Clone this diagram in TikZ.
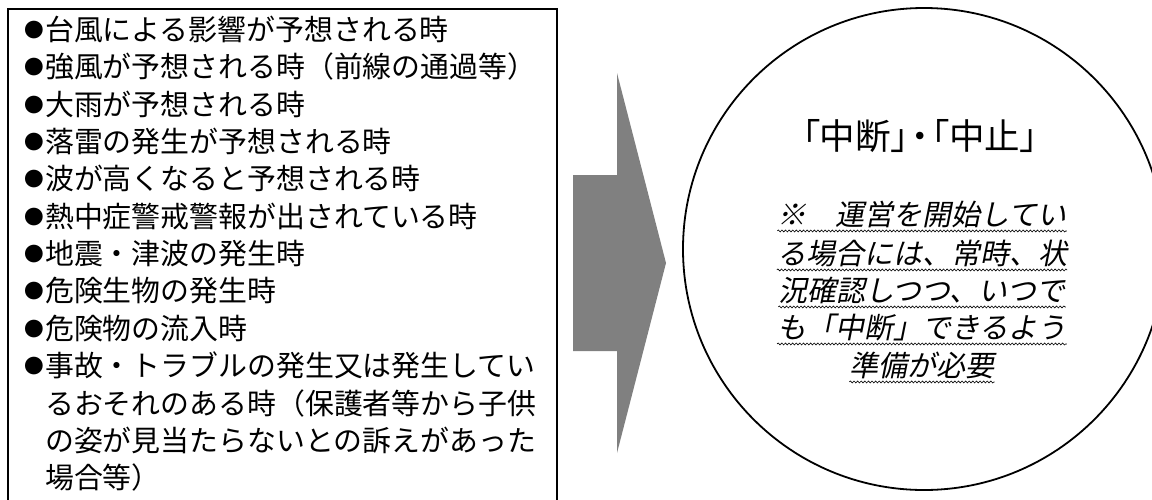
\documentclass[tikz,border=0pt]{standalone}
\usepackage{fontspec}
\usepackage{graphicx}
\setmainfont{Noto Sans CJK JP}
\newfontfamily\jpbody{Noto Sans CJK JP}
\newfontfamily\jptitle{Noto Sans CJK JP}[RawFeature=+palt]
\newfontfamily\jpslant{Noto Sans CJK JP}[FakeSlant=0.2]
\usetikzlibrary{decorations.pathmorphing}
\definecolor{arrowgray}{HTML}{808080}
\newcommand\bulletmark{\makebox[1em][r]{\raisebox{0.1em}{\scalebox{0.68}{●}}\hspace{0.05em}}}
\begin{document}
\begin{tikzpicture}[x=1pt,y=-1pt,
  frame/.style={draw=black,line width=1.8pt},
  itemtext/.style={anchor=west,inner sep=0pt,font=\jpbody\fontsize{28.9}{34}\selectfont,text height=25pt,text depth=3.5pt},
  titletext/.style={inner sep=0pt,font=\jptitle\fontsize{35.5}{40}\selectfont,text height=31pt,text depth=4pt},
  notetext/.style={inner sep=0pt,font=\jpslant\fontsize{29}{34}\selectfont,text height=25pt,text depth=3.5pt},
  wavy/.style={draw=black,line width=0.6pt,decorate,decoration={snake,amplitude=1pt,segment length=3.6pt}}]
\clip (0,0) rectangle (1152,499);
\fill[white] (0,0) rectangle (1152,499);
% left box
\node[frame,anchor=north west,inner sep=0pt,minimum width=549pt,minimum height=530pt] (box) at (7,8) {};
\node[itemtext] (l1) at (16,30) {\bulletmark 台風による影響が予想される時};
\node[itemtext] (l2) at (16,67) {\bulletmark 強風が予想される時（前線の通過等）};
\node[itemtext] (l3) at (16,105) {\bulletmark 大雨が予想される時};
\node[itemtext] (l4) at (16,142) {\bulletmark 落雷の発生が予想される時};
\node[itemtext] (l5) at (16,179) {\bulletmark 波が高くなると予想される時};
\node[itemtext] (l6) at (16,217) {\bulletmark 熱中症警戒警報が出されている時};
\node[itemtext] (l7) at (16,254) {\bulletmark 地震・津波の発生時};
\node[itemtext] (l8) at (16,291) {\bulletmark 危険生物の発生時};
\node[itemtext] (l9) at (16,329) {\bulletmark 危険物の流入時};
\node[itemtext] (l10) at (16,366) {\bulletmark 事故・トラブルの発生又は発生してい};
\node[itemtext] (l11) at (44.9,404) {るおそれのある時（保護者等から子供};
\node[itemtext] (l12) at (44.9,441) {の姿が見当たらないとの訴えがあった};
\node[itemtext] (l13) at (44.9,478) {場合等）};
% block arrow
\fill[arrowgray] (573,175) -- (617,175) -- (617,73) -- (666,263) -- (617,453) -- (617,351) -- (573,351) -- cycle;
% circle
\draw[frame] (924,249) circle[radius=241];
\node[titletext] (title) at (920,136) {「中断」\kern2.5pt・\kern2.5pt「中止」};
\node[notetext] (n1) at (922,215) {※　運営を開始してい};
\node[notetext] (n2) at (922,254) {る場合には、常時、状};
\node[notetext] (n3) at (922,291) {況確認しつつ、いつで};
\node[notetext] (n4) at (922,328) {も「中断」できるよう};
\node[notetext] (n5) at (922,366) {準備が必要};
\foreach \n in {n1,n2,n3,n4,n5}{
  \draw[wavy] ([yshift=-1.5pt]\n.south west) -- ([yshift=-1.5pt]\n.south east);
}
\end{tikzpicture}
\end{document}
